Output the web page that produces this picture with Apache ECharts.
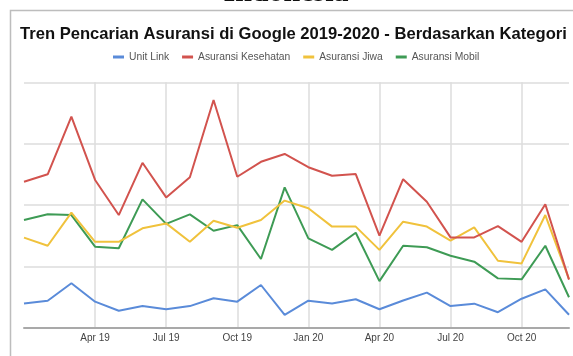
<!DOCTYPE html>
<html>
<head>
<meta charset="utf-8">
<style>html,body{margin:0;padding:0;background:#fff;}#c{width:573px;height:356px;}</style>
<script src="https://cdn.jsdelivr.net/npm/echarts@6/dist/echarts.min.js"></script>
</head>
<body>
<div id="c"></div>
<script>
var months = ['Jan 19','Feb 19','Mar 19','Apr 19','May 19','Jun 19','Jul 19','Aug 19','Sep 19','Oct 19','Nov 19','Dec 19',
              'Jan 20','Feb 20','Mar 20','Apr 20','May 20','Jun 20','Jul 20','Aug 20','Sep 20','Oct 20','Nov 20','Dec 20'];
var tickLabels = ['Apr 19','Jul 19','Oct 19','Jan 20','Apr 20','Jul 20','Oct 20'];
var unitLink = [9.9,11,18.1,10.6,6.9,8.8,7.5,8.8,12,10.6,17.4,5.2,11,9.9,11.6,7.5,11.1,14.3,8.8,9.8,6.3,11.8,15.6,5.3];
var kesehatan = [59.5,62.5,86,60.2,45.9,67.2,53.1,61.3,92.8,61.5,67.6,70.8,65.4,61.9,62.6,37.5,60.5,51.3,36.8,36.8,41.4,35,50.3,19.6];
var jiwa = [36.7,33.4,46.9,35,35,40.5,42.5,35,43.6,40.7,43.9,51.8,48.7,41.2,41.2,31.7,43.2,41.2,35.5,40.9,27.3,26.2,45.9,19.8];
var mobil = [43.9,46.2,45.9,33,32.4,52.3,42.3,46.2,39.5,41.8,28,57.2,36.4,31.7,38.7,19,33.4,32.8,29.3,26.9,20.1,19.7,33.4,12.4];
var seriesNames = ['Unit Link','Asuransi Kesehatan','Asuransi Jiwa','Asuransi Mobil'];
var colors = ['#5a8bd9','#d2534e','#f0c23c','#3e9b55'];

var chart = echarts.init(document.getElementById('c'), null, {renderer:'canvas'});
function isTick(i){ return tickLabels.indexOf(months[i]) >= 0; }
var data = [unitLink, kesehatan, jiwa, mobil];
chart.setOption({
  animation:false,
  backgroundColor:'#fff',
  color: colors,
  graphic:[
    {type:'rect', shape:{x:10.5,y:10.5,width:700,height:500}, style:{fill:'none',stroke:'#bdbdbd',lineWidth:1.5}, silent:true, z:0},
    {type:'text', x:286, y:8, style:{text:'Indonesia', font:'bold 30px "Liberation Serif"', fill:'#111', align:'center', verticalAlign:'bottom'}, z:1}
  ],
  title:{
    text:'Tren Pencarian Asuransi di Google 2019-2020 - Berdasarkan Kategori',
    left:15, top:21,
    textStyle:{fontFamily:'Liberation Sans', fontWeight:'bold', fontSize:16.6, color:'#111'}
  },
  legend:{
    left:108, top:47,
    icon:'rect', itemWidth:11, itemHeight:3, itemGap:13,
    textStyle:{fontFamily:'Liberation Sans', fontSize:10.3, color:'#555'},
    data: seriesNames
  },
  grid:{left:24, right:4, top:82.3, bottom:28.3, containLabel:false},
  xAxis:{
    type:'category', data:months, boundaryGap:false,
    axisLine:{lineStyle:{color:'#a9a9a9', width:2}},
    axisTick:{show:false},
    axisLabel:{interval:function(i){return isTick(i);}, fontFamily:'Liberation Sans', fontSize:10, color:'#444', margin:6},
    splitLine:{show:true, interval:function(i){return isTick(i);}, lineStyle:{color:'#dcdcdc', width:1.5}}
  },
  yAxis:{
    type:'value', min:0, max:100, interval:25,
    axisLabel:{show:false}, axisLine:{show:false}, axisTick:{show:false},
    splitLine:{lineStyle:{color:'#dcdcdc', width:1.5}}
  },
  series: seriesNames.map(function(n,k){
    return {name:n, type:'line', data:data[k], showSymbol:false, symbol:'none',
            lineStyle:{width:2, color:colors[k]}, itemStyle:{color:colors[k]}, z:2+ (k===0?3:k===1?2:k===2?1:0)};
  })
});
</script>
</body>
</html>
